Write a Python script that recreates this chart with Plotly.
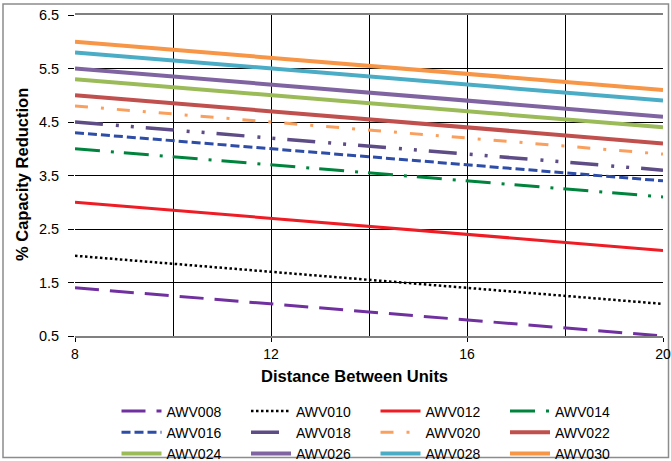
import plotly.graph_objects as go

# ---- data ----
distance = [8, 20]
series_names = ["AWV008", "AWV010", "AWV012", "AWV014", "AWV016", "AWV018",
                "AWV020", "AWV022", "AWV024", "AWV026", "AWV028", "AWV030"]
AWV008 = [1.4, 0.5]
AWV010 = [2.0, 1.1]
AWV012 = [3.0, 2.1]
AWV014 = [4.0, 3.1]
AWV016 = [4.3, 3.4]
AWV018 = [4.5, 3.6]
AWV020 = [4.8, 3.9]
AWV022 = [5.0, 4.1]
AWV024 = [5.3, 4.4]
AWV026 = [5.5, 4.6]
AWV028 = [5.8, 4.9]
AWV030 = [6.0, 5.1]
series_values = [AWV008, AWV010, AWV012, AWV014, AWV016, AWV018,
                 AWV020, AWV022, AWV024, AWV026, AWV028, AWV030]

x_tickvals = [8, 12, 16, 20]
x_ticktext = ["8", "12", "16", "20"]
x_minor_grid = [10, 14, 18]
y_tickvals = [0.5, 1.5, 2.5, 3.5, 4.5, 5.5, 6.5]
y_ticktext = ["0.5", "1.5", "2.5", "3.5", "4.5", "5.5", "6.5"]

# ---- styles ----
styles = [
    dict(color="#7030A0", width=3, dash="24px,11px"),
    dict(color="#000000", width=2.5, dash="2.5px,2.5px"),
    dict(color="#EE1C25", width=3, dash="solid"),
    dict(color="#00843D", width=3, dash="25px,11px,3px,10px"),
    dict(color="#2E4DA7", width=3, dash="9px,4px"),
    dict(color="#5E4C86", width=3.5, dash="28px,13px,3px,12px,3px,12px"),
    dict(color="#FAA05E", width=3, dash="13px,13px,3px,13px"),
    dict(color="#C0504D", width=4, dash="solid"),
    dict(color="#9BBB59", width=4, dash="solid"),
    dict(color="#8064A2", width=4, dash="solid"),
    dict(color="#4BACC6", width=4, dash="solid"),
    dict(color="#F79646", width=4, dash="solid"),
]

W, H = 671, 461
L, R, T, B = 75, 8, 15, 125
pw = W - L - R
ph = H - T - B


def px_x(p):
    return (p - L) / pw


def px_y(p):
    return (H - B - p) / ph


FONT = "Arial, Liberation Sans, sans-serif"

fig = go.Figure()
for name, vals, st in zip(series_names, series_values, styles):
    fig.add_trace(go.Scatter(x=distance, y=vals, mode="lines", name=name,
                             line=st))

fig.update_layout(
    width=W, height=H,
    margin=dict(l=L, r=R, t=T, b=B, autoexpand=False),
    paper_bgcolor="white", plot_bgcolor="white",
    font=dict(family=FONT, size=13, color="black"),
    showlegend=True,
    legend=dict(orientation="h", x=px_x(116.5), xanchor="left",
                y=px_y(395.5), yanchor="top",
                itemwidth=40, entrywidth=74.5, entrywidthmode="pixels",
                font=dict(family=FONT, size=14, color="black"),
                bgcolor="rgba(0,0,0,0)", traceorder="normal"),
    xaxis=dict(range=[8, 20], tickvals=x_tickvals, ticktext=x_ticktext,
               showgrid=True, gridcolor="black", gridwidth=1,
               minor=dict(tickvals=x_minor_grid, showgrid=True,
                          gridcolor="black", gridwidth=1, ticks=""),
               ticks="outside", ticklen=4, tickcolor="black",
               ticklabelstandoff=0, automargin=False,
               showline=True, linecolor="#808080", linewidth=2, mirror=True,
               zeroline=False, tickfont=dict(size=14)),
    yaxis=dict(range=[0.5, 6.5], tickvals=y_tickvals, ticktext=y_ticktext,
               showgrid=True, gridcolor="black", gridwidth=1,
               ticks="outside", ticklen=6, tickcolor="black",
               ticklabelstandoff=6, automargin=False,
               showline=False, zeroline=False, tickfont=dict(size=14.5)),
    annotations=[
        dict(text="<b>Distance Between Units</b>", xref="paper", yref="paper",
             x=px_x(354), y=px_y(376), showarrow=False,
             font=dict(family=FONT, size=16.5, color="black"),
             xanchor="center", yanchor="middle"),
        dict(text="<b>% Capacity Reduction</b>", xref="paper", yref="paper",
             x=px_x(22), y=px_y(175), showarrow=False, textangle=-90,
             font=dict(family=FONT, size=16.5, color="black"),
             xanchor="center", yanchor="middle"),
    ],
    shapes=[
        dict(type="rect", xref="paper", yref="paper",
             x0=px_x(3), x1=px_x(668.5), y0=px_y(457.5), y1=px_y(4),
             line=dict(color="#8C8C8C", width=1.5), fillcolor="rgba(0,0,0,0)",
             layer="below"),
    ],
)

fig.write_html("out.html",
               config={"displayModeBar": False},
               post_script="document.body.style.margin='0';"
                           "document.body.style.padding='0';")
